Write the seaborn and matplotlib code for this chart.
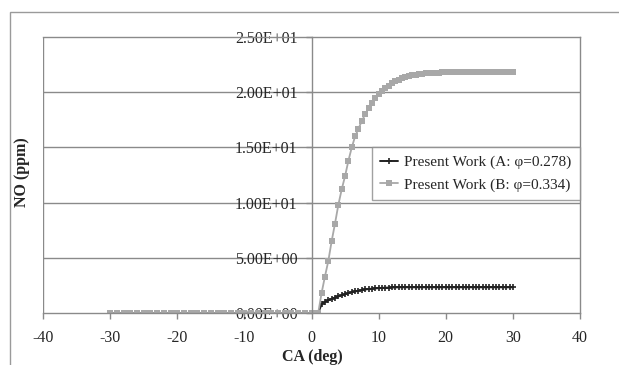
import matplotlib
matplotlib.use('Agg')
import numpy as np
import pandas as pd
import matplotlib.pyplot as plt
import seaborn as sns
from matplotlib.patches import Rectangle
from matplotlib.ticker import FuncFormatter

# crank angle grid (deg)
ca_pre = [-30, -29, -28, -27, -26, -25, -24, -23, -22, -21, -20, -19, -18, -17, -16,
          -15, -14, -13, -12, -11, -10, -9, -8, -7, -6, -5, -4, -3, -2, -1, 0, 1]
ca_post = [1.5, 2.0, 2.5, 3.0, 3.5, 4.0, 4.5, 5.0, 5.5, 6.0, 6.5, 7.0, 7.5, 8.0, 8.5,
           9.0, 9.5, 10.0, 10.5, 11.0, 11.5, 12.0, 12.5, 13.0, 13.5, 14.0, 14.5, 15.0,
           15.5, 16.0, 16.5, 17.0, 17.5, 18.0, 18.5, 19.0, 19.5, 20.0, 20.5, 21.0, 21.5,
           22.0, 22.5, 23.0, 23.5, 24.0, 24.5, 25.0, 25.5, 26.0, 26.5, 27.0, 27.5, 28.0,
           28.5, 29.0, 29.5, 30.0]

# NO (ppm) before ignition -> zero for both cases
no_pre = [0.0] * len(ca_pre)

# case A: phi = 0.278
no_a = [0.80, 1.00, 1.15, 1.28, 1.40, 1.50, 1.60, 1.70, 1.80, 1.88, 1.95, 2.02, 2.08,
        2.13, 2.17, 2.20, 2.23, 2.25, 2.27, 2.29, 2.30, 2.31, 2.32, 2.33, 2.33, 2.33,
        2.33, 2.33, 2.33, 2.33, 2.33, 2.33, 2.33, 2.33, 2.33, 2.33, 2.33, 2.33, 2.33,
        2.33, 2.33, 2.33, 2.33, 2.33, 2.33, 2.33, 2.33, 2.33, 2.33, 2.33, 2.33, 2.33,
        2.33, 2.33, 2.33, 2.33, 2.33, 2.33]

# case B: phi = 0.334
no_b = [1.80, 3.30, 4.70, 6.50, 8.10, 9.80, 11.20, 12.40, 13.80, 15.00, 16.00, 16.70,
        17.40, 18.00, 18.55, 19.05, 19.45, 19.80, 20.10, 20.40, 20.60, 20.80, 21.00,
        21.15, 21.30, 21.40, 21.48, 21.55, 21.60, 21.65, 21.68, 21.72, 21.75, 21.77,
        21.78, 21.78, 21.79, 21.79, 21.80, 21.80, 21.80, 21.80, 21.80, 21.80, 21.80,
        21.80, 21.80, 21.80, 21.80, 21.80, 21.80, 21.80, 21.80, 21.80, 21.80, 21.80,
        21.80, 21.80]

label_a = 'Present Work (A: φ=0.278)'
label_b = 'Present Work (B: φ=0.334)'

df = pd.DataFrame({
    'ca': (ca_pre + ca_post) * 2,
    'no': no_pre + no_a + no_pre + no_b,
    'case': [label_a] * (len(ca_pre) + len(ca_post)) + [label_b] * (len(ca_pre) + len(ca_post)),
})

sns.set_style('white')
plt.rcParams['font.family'] = ['Liberation Serif', 'DejaVu Serif']
plt.rcParams['axes.unicode_minus'] = False

fig = plt.figure(figsize=(6.19, 3.65), dpi=100)
ax = fig.add_axes([43 / 619, 1 - 313 / 365, 537 / 619, 276 / 365])

grid_c = '#8a8a8a'
col_a = '#222222'
col_b = '#a8a8a8'
sns.lineplot(data=df[df['case'] == label_a], x='ca', y='no', ax=ax, color=col_a,
             marker='+', markersize=5, markeredgewidth=1.2, markeredgecolor=col_a,
             linewidth=1.4, label=label_a, sort=False)
sns.lineplot(data=df[df['case'] == label_b], x='ca', y='no', ax=ax, color=col_b,
             marker='s', markersize=4.2, markeredgewidth=0, markeredgecolor=col_b,
             linewidth=1.3, label=label_b, sort=False)

ax.set_xlim(-40, 40)
ax.set_ylim(0, 25)
ax.set_xticks([-40, -30, -20, -10, 0, 10, 20, 30, 40])
ax.set_yticks([0, 5, 10, 15, 20, 25])
ax.yaxis.set_major_formatter(FuncFormatter(lambda v, p: f'{v:.2E}'))
for y in [5, 10, 15, 20]:
    ax.axhline(y, color=grid_c, lw=1.0, zorder=0)
ax.axvline(-40, color=grid_c, lw=1.0, zorder=0)

for s in ['top', 'right', 'bottom', 'left']:
    ax.spines[s].set_color(grid_c)
    ax.spines[s].set_linewidth(1.0)
ax.spines['left'].set_position(('data', 0))
ax.tick_params(axis='x', direction='out', length=4, width=1, color=grid_c,
               labelsize=11.5, pad=8, bottom=True)
ax.tick_params(axis='y', direction='out', length=4, width=1, color=grid_c,
               labelsize=11.5, pad=6, left=True)
ax.set_xlabel('')
ax.set_ylabel('')

leg = ax.legend(loc='upper right', bbox_to_anchor=(1.0, 1 - 110 / 276), frameon=True,
                fancybox=False, fontsize=11, handlelength=1.2, handletextpad=0.4,
                borderpad=0.55, labelspacing=0.55, borderaxespad=0)
leg.get_frame().set_edgecolor(grid_c)
leg.get_frame().set_linewidth(1.0)

fig.text(312 / 619, 1 - 357 / 365, 'CA (deg)', ha='center', va='center',
         fontsize=11.5, fontweight='bold')
fig.text(22 / 619, 1 - 172 / 365, 'NO (ppm)', ha='center', va='center',
         rotation=90, fontsize=11.5, fontweight='bold')

fig.patches.append(Rectangle((10 / 619, -0.1), 2, 1.1 - 12 / 365, transform=fig.transFigure,
                             fill=False, edgecolor='#9a9a9a', lw=1.0))

fig.savefig('out.png', dpi=100)
